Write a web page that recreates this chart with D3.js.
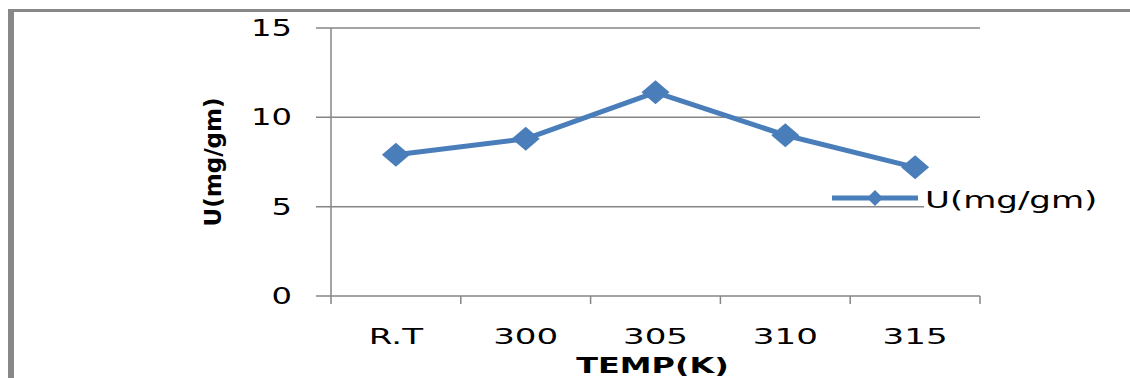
<!DOCTYPE html>
<html>
<head>
<meta charset="utf-8">
<script src="https://cdn.jsdelivr.net/npm/d3@7"></script>
<style>
  body { margin: 0; background: #fff; }
  text { font-family: "DejaVu Sans", sans-serif; fill: #000; }
</style>
</head>
<body>
<script>
// chart data
const categories = ["R.T", "300", "305", "310", "315"];
const uValues = [7.9, 8.8, 11.4, 9.0, 7.2];
const yTicks = [0, 5, 10, 15];
const seriesName = "U(mg/gm)";
const xTitle = "TEMP(K)";
const yTitle = "U(mg/gm)";

const W = 1130, H = 378;
const plot = { left: 331, right: 980, top: 28, bottom: 296 };
const BLUE = "#4a7ebb", GRID = "#868686";

const svg = d3.select("body").append("svg")
    .attr("width", W)
    .attr("height", H);

// frame pieces (left and top edges)
svg.append("rect").attr("x", 8).attr("y", 9).attr("width", 6).attr("height", H - 9).attr("fill", "#888");
svg.append("rect").attr("x", 8).attr("y", 9).attr("width", W - 8).attr("height", 3).attr("fill", "#888");

const x = d3.scaleBand(categories, [plot.left, plot.right]).padding(0);
const y = d3.scaleLinear([0, 15], [plot.bottom, plot.top]);

// horizontal text helper, stretched wide around its anchor like the picture
const wideText = (g, tx, ty, str, anchor, size, sx, weight) => g.append("text")
    .attr("transform", `translate(${tx},${ty}) scale(${sx},1)`)
    .attr("text-anchor", anchor)
    .attr("font-size", size)
    .attr("font-weight", weight || "normal")
    .text(str);

// gridlines + y ticks
const grid = svg.append("g");
grid.selectAll("line")
    .data(yTicks)
    .join("line")
    .attr("x1", plot.left - 15)
    .attr("x2", plot.right)
    .attr("y1", d => y(d))
    .attr("y2", d => y(d))
    .attr("stroke", GRID)
    .attr("stroke-width", 1.5);

yTicks.forEach(t => wideText(grid, 292, y(t) + 8, String(t), "end", 23, 1.4));

// y axis line
svg.append("line")
    .attr("x1", plot.left).attr("x2", plot.left)
    .attr("y1", plot.top).attr("y2", plot.bottom + 8)
    .attr("stroke", GRID).attr("stroke-width", 1.5);

// x ticks at band edges
const edges = categories.map(c => x(c)).concat([x(categories[categories.length - 1]) + x.bandwidth()]);
svg.append("g").selectAll("line")
    .data(edges.slice(1))
    .join("line")
    .attr("x1", d => d).attr("x2", d => d)
    .attr("y1", plot.bottom).attr("y2", plot.bottom + 8)
    .attr("stroke", GRID).attr("stroke-width", 1.5);

const xLabels = svg.append("g");
categories.forEach(c => wideText(xLabels, x(c) + x.bandwidth() / 2, 344, c, "middle", 22, 1.55));

// axis titles
wideText(svg, (plot.left + plot.right) / 2 - 3, 373, xTitle, "middle", 22, 1.45, "bold");
svg.append("text")
    .attr("transform", `translate(221,${(plot.top + plot.bottom) / 2}) rotate(-90)`)
    .attr("text-anchor", "middle")
    .attr("font-size", 23)
    .attr("font-weight", "bold")
    .text(yTitle);

// series
const pts = categories.map((c, i) => [x(c) + x.bandwidth() / 2, y(uValues[i])]);
svg.append("path")
    .attr("d", d3.line()(pts))
    .attr("fill", "none")
    .attr("stroke", BLUE)
    .attr("stroke-width", 5)
    .attr("stroke-linejoin", "round");

const diamond = (cx, cy, rx, ry) => `M${cx - rx},${cy}L${cx},${cy - ry}L${cx + rx},${cy}L${cx},${cy + ry}Z`;
svg.append("g").selectAll("path")
    .data(pts)
    .join("path")
    .attr("d", ([px, py]) => diamond(px, py, 14, 12))
    .attr("fill", BLUE);

// legend
const lg = svg.append("g");
lg.append("rect").attr("x", 924).attr("y", 183).attr("width", 185).attr("height", 32).attr("fill", "#fff");
lg.append("line")
    .attr("x1", 832).attr("x2", 918)
    .attr("y1", 198).attr("y2", 198)
    .attr("stroke", BLUE).attr("stroke-width", 5);
lg.append("path").attr("d", diamond(875, 198, 8, 8)).attr("fill", BLUE);
wideText(lg, 925, 208, seriesName, "start", 23, 1.48);
</script>
</body>
</html>
